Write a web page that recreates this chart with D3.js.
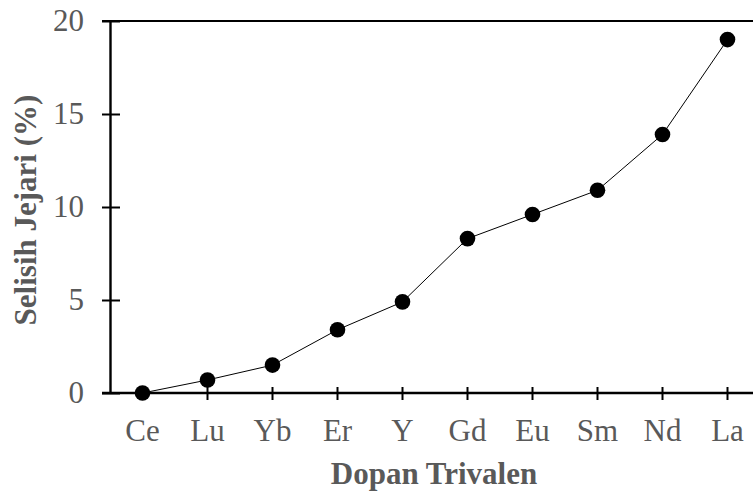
<!DOCTYPE html>
<html lang="en">
<head>
<meta charset="utf-8">
<title>Selisih Jejari</title>
<script src="https://d3js.org/d3.v7.min.js"></script>
<style>
  body { margin: 0; background: #fff; }
  .tick-label { font-family: "Liberation Serif", "Times New Roman", serif; font-size: 31px; fill: #595959; }
  .axis-title { font-family: "Liberation Serif", "Times New Roman", serif; font-size: 31px; font-weight: bold; fill: #595959; }
</style>
</head>
<body>
<div id="main"></div>
<script>
var dopants = ["Ce", "Lu", "Yb", "Er", "Y", "Gd", "Eu", "Sm", "Nd", "La"];
var selisih = [0, 0.7, 1.5, 3.4, 4.9, 8.3, 9.6, 10.9, 13.9, 19.0];
var yTicks = [0, 5, 10, 15, 20];

var width = 753, height = 493;
var plotL = 110, plotR = 760, plotT = 21, plotB = 393;

var svg = d3.select("#main").append("svg")
    .attr("width", width)
    .attr("height", height);

var x = d3.scaleBand().domain(dopants).range([plotL, plotR]).padding(0);
var y = d3.scaleLinear().domain([0, 20]).range([plotB, plotT]);

// frame top
svg.append("line")
    .attr("x1", plotL - 8).attr("x2", plotR)
    .attr("y1", plotT).attr("y2", plotT)
    .attr("stroke", "#000").attr("stroke-width", 2);

// y axis
var gy = svg.append("g").attr("transform", "translate(" + plotL + ",0)")
    .call(d3.axisLeft(y).tickValues(yTicks).tickSizeInner(8).tickSizeOuter(0).tickPadding(18));
gy.select(".domain").attr("stroke-width", 2.4);
gy.selectAll(".tick line").attr("x2", 10).attr("x1", -8).attr("stroke-width", 2);
gy.selectAll(".tick text").attr("class", "tick-label").attr("font-size", null).attr("font-family", null).attr("fill", null);

// x axis
var gx = svg.append("g").attr("transform", "translate(0," + plotB + ")")
    .call(d3.axisBottom(x).tickSizeInner(7).tickSizeOuter(0).tickPadding(19));
gx.select(".domain").attr("d", "M" + (plotL - 8) + ",0H" + plotR).attr("stroke-width", 2.4);
gx.selectAll(".tick line").attr("y1", -6).attr("y2", 7).attr("stroke-width", 2);
gx.selectAll(".tick text").attr("class", "tick-label").attr("font-size", null).attr("font-family", null).attr("fill", null);

// titles
svg.append("text").attr("class", "axis-title")
    .attr("x", 434).attr("y", 484)
    .attr("text-anchor", "middle")
    .text("Dopan Trivalen");

svg.append("text").attr("class", "axis-title")
    .attr("transform", "translate(36,210) rotate(-90)")
    .attr("text-anchor", "middle")
    .text("Selisih Jejari (%)");

// line + points
var pts = dopants.map(function(d, i) { return [x(d) + x.bandwidth() / 2, y(selisih[i])]; });

svg.append("path")
    .attr("d", d3.line()(pts))
    .attr("fill", "none")
    .attr("stroke", "#000")
    .attr("stroke-width", 1);

svg.selectAll("circle.pt").data(pts).enter().append("circle")
    .attr("class", "pt")
    .attr("cx", function(d) { return d[0]; })
    .attr("cy", function(d) { return d[1]; })
    .attr("r", 7.8)
    .attr("fill", "#000");
</script>
</body>
</html>
